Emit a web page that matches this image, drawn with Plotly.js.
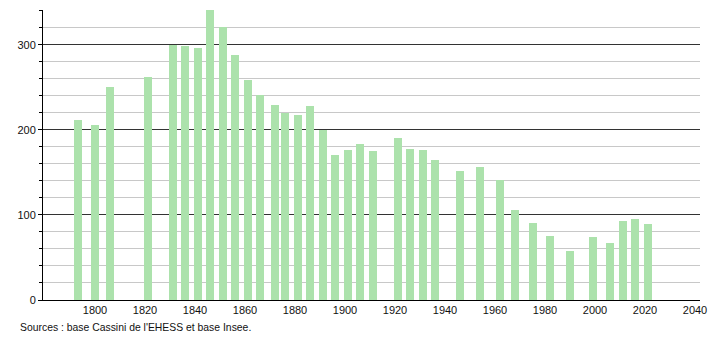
<!DOCTYPE html>
<html><head><meta charset="utf-8">
<script src="https://cdn.plot.ly/plotly-3.0.1.min.js"></script>
<style>html,body{margin:0;padding:0;background:#fff}#c{width:710px;height:340px}</style>
</head><body><div id="c"></div>
<script>
const years = [1793,1800,1806,1821,1831,1836,1841,1846,1851,1856,1861,1866,1872,1876,1881,1886,1891,1896,1901,1906,1911,1921,1926,1931,1936,1946,1954,1962,1968,1975,1982,1990,1999,2006,2011,2016,2021];
const population = [212,206,250,262,300,299,296,341,321,288,259,241,229,220,217,228,200,171,176,183,175,191,178,176,165,152,156,141,106,91,75,58,74,67,93,95,89];
const xTicks = [1800,1820,1840,1860,1880,1900,1920,1940,1960,1980,2000,2020,2040];
const yTicks = [0,100,200,300];
const sourceText = "Sources : base Cassini de l'EHESS et base Insee.";

Plotly.newPlot('c', [{
  type:'bar', x:years, y:population, width:3.2,
  marker:{color:'rgb(172,226,172)', line:{width:0}},
  hoverinfo:'x+y'
}], {
  width:710, height:340,
  margin:{l:43, r:10, t:10, b:40},
  paper_bgcolor:'#fff', plot_bgcolor:'#fff',
  font:{family:'Liberation Sans, Arial, sans-serif', size:11, color:'#111'},
  showlegend:false,
  xaxis:{range:[1779.2,2042], tickvals:xTicks, ticktext:xTicks.map(String), showgrid:false, zeroline:false,
    showline:true, linecolor:'#000', linewidth:1, ticks:'', ticklen:0, tickfont:{size:11, color:'#111'}},
  yaxis:{range:[0,341], tickvals:yTicks, ticktext:yTicks.map(String), showgrid:true, gridcolor:'#333', gridwidth:1,
    zeroline:false, showline:true, linecolor:'#000', linewidth:1, ticks:'outside', ticklen:4, tickcolor:'#000',
    tickfont:{size:11, color:'#111'},
    minor:{dtick:20, tick0:0, showgrid:true, gridcolor:'#c8c8c8', gridwidth:1, ticks:'outside', ticklen:3, tickcolor:'#000'}},
  annotations:[{text:sourceText, xref:'paper', yref:'paper', x:-0.038, y:-0.07, xanchor:'left', yanchor:'top',
    showarrow:false, font:{size:10.4, color:'#111'}}],
  bargap:0
}, {displayModeBar:false, staticPlot:true});
</script></body></html>
